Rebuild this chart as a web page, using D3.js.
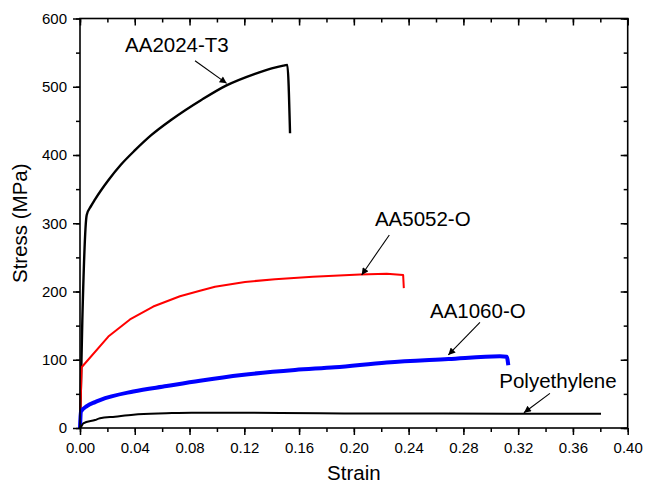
<!DOCTYPE html>
<html>
<head>
<meta charset="utf-8">
<script src="https://cdn.jsdelivr.net/npm/d3@7"></script>
<style>
body { margin: 0; background: #fff; }
text { font-family: "Liberation Sans", Arial, sans-serif; fill: #000; }
</style>
</head>
<body>
<div id="chart"></div>
<script>
var aa2024Strain = [0, 0.0017, 0.0049, 0.008, 0.011, 0.0207, 0.03, 0.0402, 0.052, 0.067, 0.0889, 0.107, 0.1278, 0.14, 0.1485, 0.1514, 0.1534],
	aa2024Stress = [0, 158, 312, 325, 335, 363, 386, 407, 429, 452, 481, 502, 519, 527, 531, 532, 432];

var aa5052Strain = [0, 0.0012, 0.0207, 0.0365, 0.0535, 0.073, 0.0876, 0.0986, 0.1205, 0.1424, 0.17, 0.2045, 0.224, 0.236, 0.2365],
	aa5052Stress = [0, 89, 134, 159, 178, 193, 201, 207, 214, 218, 221.5, 225, 226, 224, 205];

var aa1060Strain = [0, 0.0007, 0.005, 0.011, 0.0146, 0.039, 0.0633, 0.0876, 0.1181, 0.157, 0.1862, 0.224, 0.269, 0.3067, 0.3116, 0.3128],
	aa1060Stress = [0, 24, 32, 38, 41, 53.5, 61.5, 69.3, 77.7, 85, 89, 96, 101, 105, 104.5, 92];

var peStrain = [0, 0.0012, 0.0024, 0.011, 0.0146, 0.0256, 0.039, 0.063, 0.0816, 0.12, 0.175, 0.25, 0.32, 0.3805],
	peStress = [0, 3, 6.8, 11.7, 14.2, 16.6, 19.5, 21.5, 22.5, 22.3, 21.5, 21.2, 21, 21];

var xTicks = [0, 0.04, 0.08, 0.12, 0.16, 0.20, 0.24, 0.28, 0.32, 0.36, 0.40],
	yTicks = [0, 100, 200, 300, 400, 500, 600];

var labels = ["AA2024-T3", "AA5052-O", "AA1060-O", "Polyethylene"],
	labelStrain = [0.0329, 0.2154, 0.2556, 0.3062],
	labelStress = [550.5, 296.4, 160.7, 58.2],
	arrowFrom = [[0.084, 538], [0.2259, 282.8], [0.2921, 154.9], [0.3432, 50.8]],
	arrowTo = [[0.1071, 505], [0.2057, 224.2], [0.269, 107], [0.3242, 22.4]];

var width = 646,
	height = 484,
	pLeft = 80, pRight = 627.7, pTop = 18.5, pBottom = 428;

var x = d3.scaleLinear().domain([0, 0.4]).range([pLeft, pRight]),
	y = d3.scaleLinear().domain([0, 600]).range([pBottom, pTop]);

var svg = d3.select('#chart')
	.append('svg')
	.attr('width', width)
	.attr('height', height);

svg.append('defs').append('marker')
	.attr('id', 'arrow')
	.attr('viewBox', '0 0 10 10')
	.attr('refX', 10)
	.attr('refY', 5)
	.attr('markerUnits', 'userSpaceOnUse')
	.attr('markerWidth', 9)
	.attr('markerHeight', 7)
	.attr('orient', 'auto')
	.append('path')
	.attr('d', 'M0,0L10,5L0,10z')
	.attr('fill', '#000');

var series = [
	{ s: aa2024Strain, v: aa2024Stress, color: '#000', w: 2.4, smooth: true },
	{ s: aa5052Strain, v: aa5052Stress, color: '#ff0000', w: 2, smooth: false },
	{ s: aa1060Strain, v: aa1060Stress, color: '#0000ff', w: 4, smooth: true },
	{ s: peStrain, v: peStress, color: '#000', w: 2, smooth: true }
];

svg.selectAll('path.curve')
	.data(series)
	.enter()
	.append('path')
	.attr('class', 'curve')
	.attr('d', function(d) {
		var line = d3.line()
			.x(function(p) { return x(p[0]); })
			.y(function(p) { return y(p[1]); })
			.curve(d.smooth ? d3.curveMonotoneX : d3.curveLinear);
		return line(d.s.map(function(s, i) { return [s, d.v[i]]; }));
	})
	.attr('fill', 'none')
	.attr('stroke', function(d) { return d.color; })
	.attr('stroke-width', function(d) { return d.w; })
	.attr('stroke-linejoin', 'round');

// axes: outward ticks bottom/left, inward ticks top/right
var xMinor = d3.range(0, 0.401, 0.02),
	yMinor = d3.range(0, 601, 50);

var bottomAxis = d3.axisBottom(x).tickValues(xTicks).tickFormat(d3.format('.2f')).tickSize(7).tickPadding(7),
	leftAxis = d3.axisLeft(y).tickValues(yTicks).tickFormat(d3.format('d')).tickSize(7).tickPadding(6);

function minor(g) {
	g.select('.domain').remove();
	g.selectAll('text').remove();
}

svg.append('g').attr('transform', 'translate(0,' + pBottom + ')')
	.call(d3.axisBottom(x).tickValues(xMinor).tickSize(4)).call(minor);
svg.append('g').attr('transform', 'translate(' + pLeft + ',0)')
	.call(d3.axisLeft(y).tickValues(yMinor).tickSize(4)).call(minor);
svg.append('g').attr('transform', 'translate(0,' + pTop + ')')
	.call(d3.axisBottom(x).tickValues(xMinor).tickSize(4)).call(minor);
svg.append('g').attr('transform', 'translate(' + pRight + ',0)')
	.call(d3.axisLeft(y).tickValues(yMinor).tickSize(4)).call(minor);
svg.append('g').attr('transform', 'translate(0,' + pTop + ')')
	.call(d3.axisBottom(x).tickValues(xTicks).tickSize(7)).call(minor);
svg.append('g').attr('transform', 'translate(' + pRight + ',0)')
	.call(d3.axisLeft(y).tickValues(yTicks).tickSize(7)).call(minor);

var gx = svg.append('g').attr('transform', 'translate(0,' + pBottom + ')').call(bottomAxis),
	gy = svg.append('g').attr('transform', 'translate(' + pLeft + ',0)').call(leftAxis);

gx.selectAll('text').style('font-size', '15px').attr('dy', '0.71em');
gy.selectAll('text').style('font-size', '15px');
svg.selectAll('.tick text').attr('fill', '#000').style('font-family', '"Liberation Sans", Arial, sans-serif');

svg.selectAll('.domain').remove();
svg.selectAll('.tick line').attr('stroke', '#000').attr('stroke-width', 1.5);

svg.append('rect')
	.attr('x', pLeft)
	.attr('y', pTop)
	.attr('width', pRight - pLeft)
	.attr('height', pBottom - pTop)
	.attr('fill', 'none')
	.attr('stroke', '#000')
	.attr('stroke-width', 1.6);

svg.append('text')
	.attr('x', (pLeft + pRight) / 2)
	.attr('y', 480)
	.attr('text-anchor', 'middle')
	.style('font-size', '20.5px')
	.text('Strain');

svg.append('text')
	.attr('transform', 'translate(27,' + (pTop + pBottom) / 2 + ') rotate(-90)')
	.attr('text-anchor', 'middle')
	.style('font-size', '20.5px')
	.text('Stress (MPa)');

svg.selectAll('text.label')
	.data(labels)
	.enter()
	.append('text')
	.attr('class', 'label')
	.attr('x', function(d, i) { return x(labelStrain[i]); })
	.attr('y', function(d, i) { return y(labelStress[i]); })
	.style('font-size', '20.5px')
	.text(function(d) { return d; });

svg.selectAll('line.arrow')
	.data(labels)
	.enter()
	.append('line')
	.attr('class', 'arrow')
	.attr('x1', function(d, i) { return x(arrowFrom[i][0]); })
	.attr('y1', function(d, i) { return y(arrowFrom[i][1]); })
	.attr('x2', function(d, i) { return x(arrowTo[i][0]); })
	.attr('y2', function(d, i) { return y(arrowTo[i][1]); })
	.attr('stroke', '#000')
	.attr('stroke-width', 1.1)
	.attr('marker-end', 'url(#arrow)');
</script>
</body>
</html>
